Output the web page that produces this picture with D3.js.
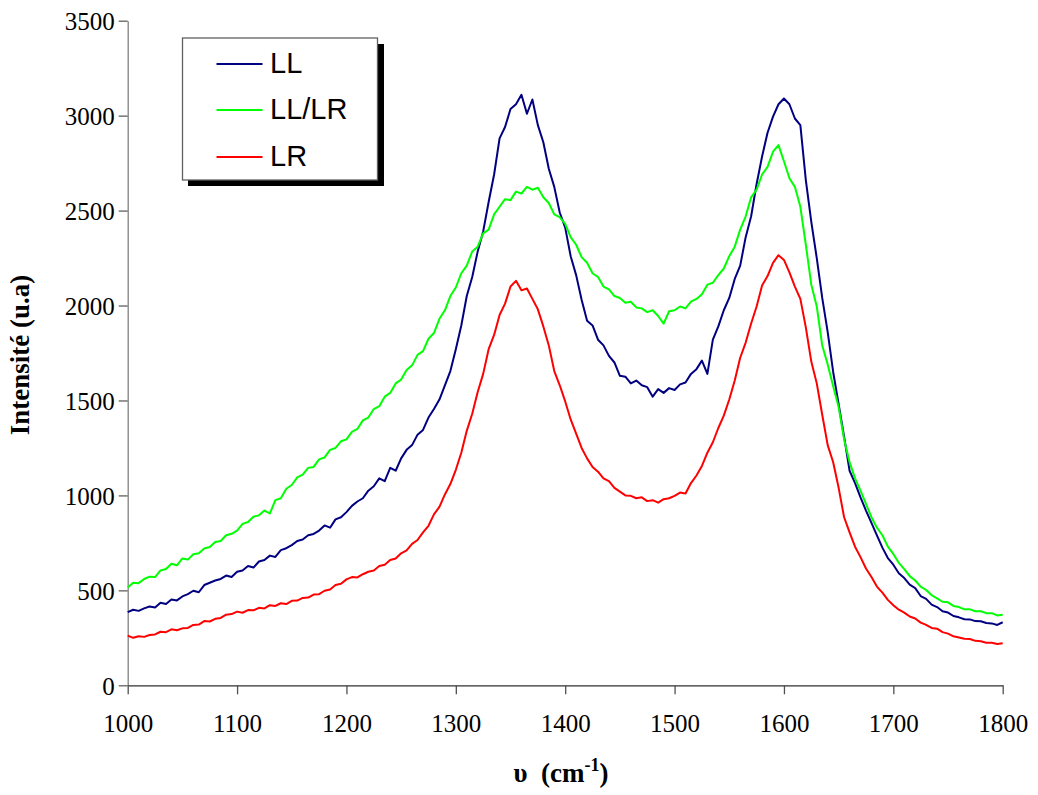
<!DOCTYPE html>
<html>
<head>
<meta charset="utf-8">
<script src="https://cdn.jsdelivr.net/npm/d3@7"></script>
<style>
  html, body { margin: 0; padding: 0; background: #fff; }
  svg { display: block; }
</style>
</head>
<body>
<svg id="chart" width="1038" height="795"></svg>
<script>
// ---- Data ----
const wavenumbers = [
  1000,1005,1010,1015,1020,1025,1030,1035,1040,1045,1050,1055,1060,1065,1070,1075,1080,1085,1090,1095,
  1100,1105,1110,1115,1120,1125,1130,1135,1140,1145,1150,1155,1160,1165,1170,1175,1180,1185,1190,1195,
  1200,1205,1210,1215,1220,1225,1230,1235,1240,1245,1250,1255,1260,1265,1270,1275,1280,1285,1290,1295,
  1300,1305,1310,1315,1320,1325,1330,1335,1340,1345,1350,1355,1360,1365,1370,1375,1380,1385,1390,1395,
  1400,1405,1410,1415,1420,1425,1430,1435,1440,1445,1450,1455,1460,1465,1470,1475,1480,1485,1490,1495,
  1500,1505,1510,1515,1520,1525,1530,1535,1540,1545,1550,1555,1560,1565,1570,1575,1580,1585,1590,1595,
  1600,1605,1610,1615,1620,1625,1630,1635,1640,1645,1650,1655,1660,1665,1670,1675,1680,1685,1690,1695,
  1700,1705,1710,1715,1720,1725,1730,1735,1740,1745,1750,1755,1760,1765,1770,1775,1780,1785,1790,1795,
  1800
];

const seriesLL = [
  385,398,392,405,415,410,435,428,452,447,468,480,498,490,528,540,552,560,578,570,
  598,605,628,620,652,660,683,676,712,722,738,760,768,790,797,815,842,830,874,885,
  912,945,968,985,1025,1048,1090,1075,1145,1130,1195,1240,1265,1320,1345,1410,1455,1505,1580,1655,
  1770,1895,2050,2150,2285,2390,2545,2690,2880,2940,3035,3060,3110,3010,3085,2950,2860,2720,2625,2490,
  2410,2260,2160,2030,1920,1895,1820,1790,1735,1700,1630,1625,1590,1605,1580,1570,1520,1560,1540,1565,
  1555,1585,1595,1640,1665,1710,1640,1820,1890,1975,2040,2140,2210,2360,2470,2640,2785,2910,2995,3060,
  3090,3060,2985,2950,2660,2440,2250,2040,1860,1650,1480,1310,1130,1065,990,920,855,790,725,670,
  635,590,565,530,512,470,455,425,412,390,383,365,358,348,347,338,337,328,326,318,
  332
];

const seriesLLLR = [
  515,540,538,560,572,570,605,612,640,632,668,662,690,695,720,728,755,760,790,798,
  815,850,860,888,895,920,905,975,985,1035,1055,1095,1110,1145,1150,1190,1200,1240,1250,1285,
  1295,1335,1350,1395,1410,1455,1470,1520,1540,1590,1610,1660,1685,1740,1760,1825,1855,1930,1975,2050,
  2095,2170,2210,2285,2310,2380,2400,2480,2520,2560,2555,2600,2590,2625,2610,2620,2570,2540,2480,2465,
  2430,2360,2320,2255,2225,2170,2150,2100,2085,2050,2040,2015,2020,1990,1985,1965,1975,1945,1905,1970,
  1975,1995,1985,2020,2035,2060,2110,2120,2160,2195,2260,2310,2400,2470,2570,2610,2690,2730,2810,2845,
  2760,2670,2625,2520,2320,2110,1995,1790,1690,1575,1465,1295,1175,1090,1025,955,885,830,790,730,
  692,645,612,575,552,520,502,475,458,440,437,418,412,400,400,390,390,380,380,368,
  372
];

const seriesLR = [
  262,250,258,255,265,268,282,280,295,290,300,302,318,320,338,336,350,355,372,375,
  388,382,396,395,408,405,422,418,432,428,445,446,460,462,478,480,498,505,528,535,
  558,570,568,585,598,605,628,635,660,668,695,710,745,765,805,840,900,940,1005,1060,
  1135,1225,1340,1430,1545,1640,1770,1845,1950,2010,2100,2130,2080,2090,2035,1980,1890,1790,1655,1580,
  1495,1400,1325,1250,1195,1150,1125,1090,1075,1040,1020,1000,998,985,990,970,975,962,980,985,
  998,1015,1010,1065,1105,1155,1225,1280,1355,1420,1505,1605,1725,1805,1905,1995,2105,2155,2225,2265,
  2240,2175,2100,2035,1885,1705,1590,1425,1265,1175,1040,885,805,730,675,615,570,520,488,450,
  422,398,383,362,352,330,318,302,298,280,272,258,252,245,244,234,232,224,224,218,
  222
];

const seriesNames = ["LL", "LL/LR", "LR"];
const seriesColors = ["#000080", "#00FF00", "#FF0000"];
const xTicks = [1000, 1100, 1200, 1300, 1400, 1500, 1600, 1700, 1800];
const yTicks = [0, 500, 1000, 1500, 2000, 2500, 3000, 3500];

// ---- Layout ----
const svg = d3.select("#chart");
const x = d3.scaleLinear().domain([1000, 1800]).range([127.7, 1002.7]);
const y = d3.scaleLinear().domain([0, 3500]).range([685.3, 20.7]);

const allSeries = [seriesLL, seriesLLLR, seriesLR];

// Axes
const yAxis = svg.append("g")
  .attr("transform", "translate(127.7,0)")
  .call(d3.axisLeft(y).tickValues(yTicks).tickSize(9).tickSizeOuter(0).tickFormat(d3.format("d")));
yAxis.select(".domain").attr("stroke", "#808080").attr("stroke-width", 1.3);
yAxis.selectAll(".tick line").attr("stroke", "#606060").attr("stroke-width", 1.3);
yAxis.selectAll(".tick text")
  .attr("x", -13)
  .attr("dy", "0.36em")
  .attr("font-family", "'Liberation Serif', 'Times New Roman', serif")
  .attr("font-size", 25)
  .attr("fill", "#000");

const xAxis = svg.append("g")
  .attr("transform", "translate(0,685.3)")
  .call(d3.axisBottom(x).tickValues(xTicks).tickSize(9).tickSizeOuter(0).tickFormat(d3.format("d")));
xAxis.select(".domain").attr("stroke", "#303030").attr("stroke-width", 1.3);
xAxis.selectAll(".tick line").attr("stroke", "#505050").attr("stroke-width", 1.3);
xAxis.selectAll(".tick text")
  .attr("y", 38)
  .attr("dy", "0.36em")
  .attr("font-family", "'Liberation Serif', 'Times New Roman', serif")
  .attr("font-size", 25)
  .attr("fill", "#000");

// Lines
const line = d3.line()
  .x((d, i) => x(wavenumbers[i]))
  .y(d => y(d));

svg.append("g").selectAll("path.series")
  .data(allSeries)
  .join("path")
  .attr("class", "series")
  .attr("d", d => line(d))
  .attr("fill", "none")
  .attr("stroke", (d, i) => seriesColors[i])
  .attr("stroke-width", 2)
  .attr("stroke-linejoin", "round");

// Axis titles
svg.append("text")
  .attr("transform", "translate(29,355) rotate(-90)")
  .attr("text-anchor", "middle")
  .attr("font-family", "'Liberation Serif', 'Times New Roman', serif")
  .attr("font-weight", "bold")
  .attr("font-size", 27)
  .text("Intensité (u.a)");

const xt = svg.append("text")
  .attr("x", 561)
  .attr("y", 782)
  .attr("text-anchor", "middle")
  .attr("font-family", "'Liberation Serif', 'Times New Roman', serif")
  .attr("font-weight", "bold")
  .attr("font-size", 27)
  .attr("xml:space", "preserve");
xt.append("tspan").text("υ  (cm");
xt.append("tspan").attr("dy", -11).attr("font-size", 18).text("-1");
xt.append("tspan").attr("dy", 11).text(")");

// Legend
const lg = svg.append("g");
lg.append("rect").attr("x", 188).attr("y", 44).attr("width", 196).attr("height", 142).attr("fill", "#000");
lg.append("rect").attr("x", 182.5).attr("y", 38).attr("width", 195).attr("height", 142)
  .attr("fill", "#fff").attr("stroke", "#606060").attr("stroke-width", 1.3);
const legY = [64, 110, 157];
seriesNames.forEach((name, i) => {
  lg.append("line").attr("x1", 216.5).attr("x2", 262.5).attr("y1", legY[i]).attr("y2", legY[i])
    .attr("stroke", seriesColors[i]).attr("stroke-width", 2);
  lg.append("text").attr("x", 270).attr("y", legY[i] + 9)
    .attr("font-family", "'Liberation Sans', Arial, sans-serif")
    .attr("font-size", 29)
    .attr("fill", "#000")
    .text(name);
});
</script>
</body>
</html>
